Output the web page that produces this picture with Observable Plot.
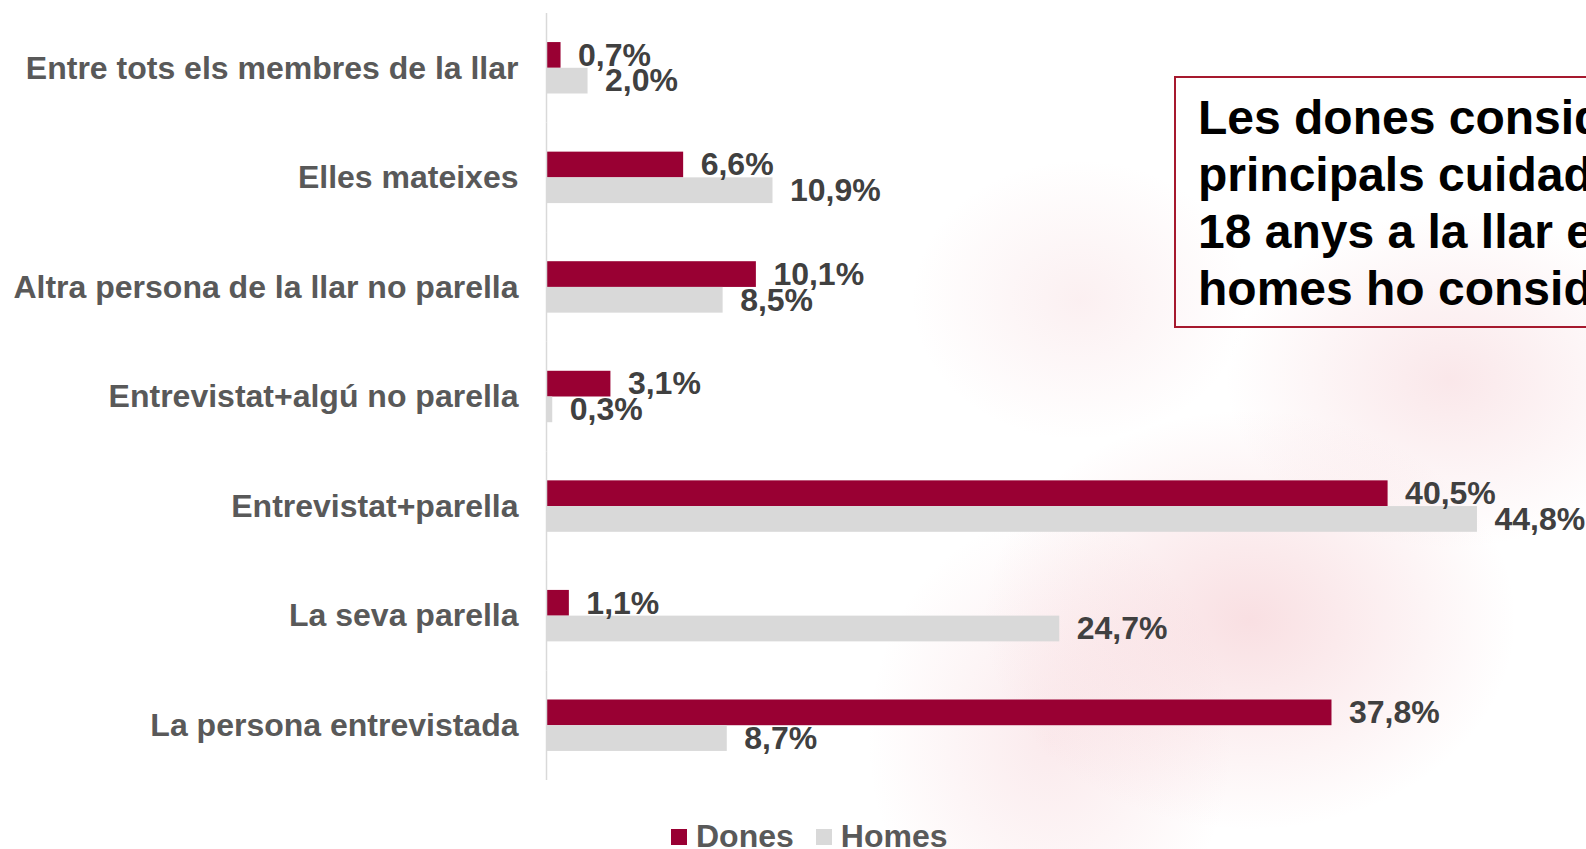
<!DOCTYPE html>
<html><head><meta charset="utf-8">
<script src="https://cdn.jsdelivr.net/npm/d3@7"></script>
<script src="https://cdn.jsdelivr.net/npm/@observablehq/plot@0.6"></script>
<style>
html,body{margin:0;padding:0;}
body{width:1586px;height:849px;overflow:hidden;position:relative;background:#fff;font-family:"Liberation Sans",Arial,sans-serif;}
#bg{position:absolute;left:0;top:0;width:1586px;height:849px;
 background:
  radial-gradient(ellipse 380px 300px at 1250px 620px, rgba(235,150,160,0.3), rgba(255,255,255,0) 70%),
  radial-gradient(ellipse 320px 240px at 1450px 380px, rgba(235,160,170,0.25), rgba(255,255,255,0) 70%),
  radial-gradient(ellipse 260px 320px at 1050px 740px, rgba(235,160,170,0.22), rgba(255,255,255,0) 70%),
  radial-gradient(ellipse 240px 200px at 1080px 300px, rgba(235,170,178,0.18), rgba(255,255,255,0) 70%);}
#chart{position:absolute;left:0;top:0;}
#box{position:absolute;left:1174px;top:76px;width:520px;height:237px;border:2px solid #a6192e;box-sizing:content-box;padding:10.8px 0 0 22px;}
#box div{white-space:nowrap;font-size:48px;font-weight:bold;color:#000;line-height:57.2px;}
#legend{position:absolute;left:671px;top:818px;display:flex;align-items:center;font-size:32px;font-weight:bold;color:#595959;line-height:37px;}
#legend .sw{width:16px;height:16px;display:inline-block;margin-right:9px;}
</style></head><body>
<div id="bg"></div>
<div id="chart"></div>
<div id="box">
 <div>Les dones consideren que són les</div>
 <div>principals cuidadores dels menors de</div>
 <div>18 anys a la llar en un 37,8%, mentre</div>
 <div>homes ho consideren en un 8,7%</div>
</div>
<div id="legend"></div>
<script>
const categories = [
  "Entre tots els membres de la llar",
  "Elles mateixes",
  "Altra persona de la llar no parella",
  "Entrevistat+algú no parella",
  "Entrevistat+parella",
  "La seva parella",
  "La persona entrevistada"
];
const series = ["Dones", "Homes"];
const dones = [0.7, 6.6, 10.1, 3.1, 40.5, 1.1, 37.8];
const homes = [2.0, 10.9, 8.5, 0.3, 44.8, 24.7, 8.7];
const colors = ["#990033", "#d9d9d9"];

const data = categories.flatMap((c, i) => [
  {category: c, series: series[0], value: dones[i]},
  {category: c, series: series[1], value: homes[i]}
]);
const fmt = v => v.toFixed(1).replace(".", ",") + "%";

const chart = Plot.plot({
  width: 1586, height: 800,
  marginLeft: 546, marginRight: 1, marginTop: 13, marginBottom: 20,
  x: {domain: [0, 50], axis: null},
  y: {domain: series, axis: null, paddingInner: 0, paddingOuter: 1.13, round: false},
  fy: {domain: categories, padding: 0, axis: null, round: false},
  color: {domain: series, range: colors},
  style: {background: "transparent", fontFamily: "'Liberation Sans', Arial, sans-serif", overflow: "visible"},
  marks: [
    Plot.barX(data, {fy: "category", y: "series", x: "value", fill: "series"}),
    Plot.ruleX([0], {stroke: "#d9d9d9", strokeWidth: 1.5}),
    Plot.text(data, {fy: "category", y: "series", x: "value", text: d => fmt(d.value),
      dx: 17, textAnchor: "start", fontSize: 32, fontWeight: "bold", fill: "#404040"}),
    Plot.axisFy({anchor: "left", tickSize: 0, tickPadding: 28, fontSize: 32, fontWeight: "bold",
      color: "#595959", label: null})
  ]
});
document.getElementById("chart").appendChild(chart);

const legend = document.getElementById("legend");
series.forEach((s, i) => {
  const item = document.createElement("span");
  item.style.display = "inline-flex";
  item.style.alignItems = "center";
  item.style.marginRight = i === 0 ? "22px" : "0";
  const sw = document.createElement("span");
  sw.className = "sw";
  sw.style.background = colors[i];
  const t = document.createElement("span");
  t.textContent = s;
  item.appendChild(sw); item.appendChild(t);
  legend.appendChild(item);
});
</script>
</body></html>
